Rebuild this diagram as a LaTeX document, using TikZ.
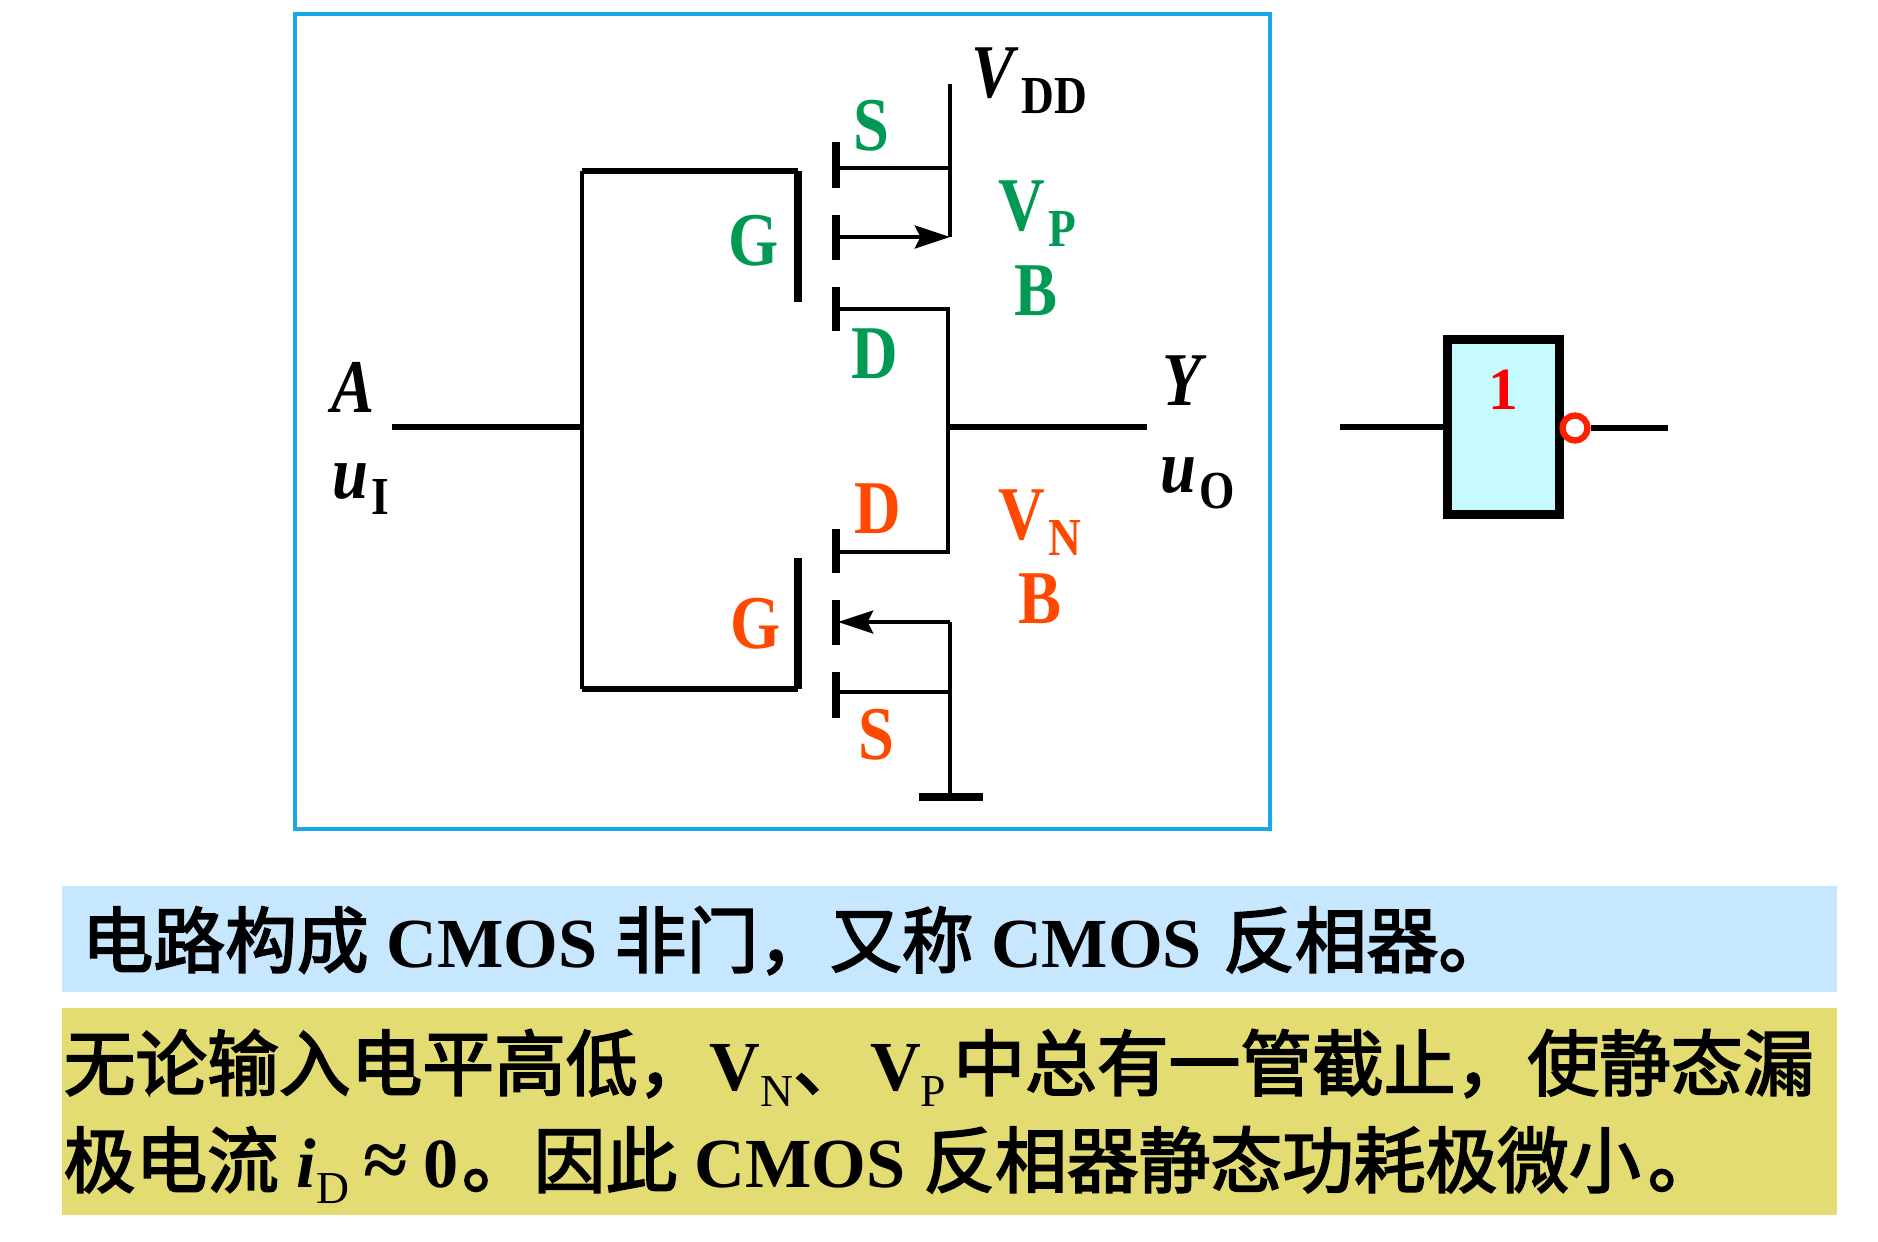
\documentclass[tikz,border=0pt]{standalone}
\usepackage{fontspec}
\setmainfont{Liberation Serif}
\newfontfamily\zhfont{Noto Sans CJK SC}[FakeBold=2.6]
\newfontfamily\lblfont{Liberation Serif}[FakeStretch=0.85]
\usetikzlibrary{arrows.meta}
\definecolor{pgreen}{RGB}{0,154,85}
\definecolor{nred}{RGB}{255,72,0}
\definecolor{framec}{RGB}{26,167,232}
\definecolor{barblue}{RGB}{199,231,255}
\definecolor{baryellow}{RGB}{226,220,114}
\definecolor{gatefill}{RGB}{197,250,255}
\definecolor{bubblec}{RGB}{255,32,0}
\newcommand{\lsub}[1]{\kern.8pt\raisebox{-4.6pt}{\fontsize{15.2}{15}\selectfont #1}}
\newcommand{\tsub}[1]{\raisebox{-4.8pt}{\fontsize{13}{13}\selectfont\mdseries #1}}
\newcommand{\zh}[1]{{\fontsize{20.4}{24}\selectfont\mdseries\zhfont #1}}
\tikzset{
    wire/.style={line width=1.2pt},
    lead/.style={line width=1.55pt},
    chan/.style={line width=2pt},
    lbl/.style={inner sep=0pt, anchor=base west, font=\fontsize{21.6}{24}\selectfont\lblfont\bfseries},
    bartext/.style={inner sep=0pt, anchor=base west, font=\fontsize{20}{24}\selectfont\bfseries},
    tip/.style={-{Stealth[length=10pt,width=6.5pt,inset=1.6pt]}}
}
\begin{document}
\begin{tikzpicture}[x=0.01cm,y=-0.01cm]
    \useasboundingbox (0,0) rectangle (1878,1242);
    \draw[framec, line width=1.3pt] (295,14) rectangle (1270,829);

    % input and gates
    \coordinate (in) at (392,427);
    \coordinate (inj) at (582,427);
    \coordinate (gptop) at (582,171);
    \coordinate (gpa) at (798,171);
    \coordinate (gpb) at (798,302);
    \coordinate (gnbot) at (582,689);
    \coordinate (gna) at (798,689);
    \coordinate (gnb) at (798,558);
    \draw[lead] (in) -- (inj);
    \draw[wire] (gnbot) -- (gptop);
    \draw[lead] (gptop) -- (gpa);
    \draw[lead] (gnbot) -- (gna);
    \draw[chan] (gpa) -- (gpb);
    \draw[chan] (gna) -- (gnb);

    % channel bars
    \foreach \name/\ya/\yb in {ps/142/188, pb/215/260, pd/287/331, nd/529/573, nb/600/645, ns/672/718} {
        \coordinate (\name a) at (836,\ya);
        \coordinate (\name b) at (836,\yb);
        \draw[chan] (\name a) -- (\name b);
    }

    % p side
    \coordinate (vdd) at (950,84);
    \coordinate (psc) at (836,168);
    \coordinate (psr) at (950,168);
    \coordinate (pbc) at (836,237);
    \coordinate (pbr) at (950,237);
    \coordinate (pdc) at (836,309);
    \coordinate (pdr) at (948,309);
    \draw[wire] (vdd) -- (pbr);
    \draw[wire] (psc) -- (psr);
    \draw[wire, tip] (pbc) -- (pbr);

    % n side
    \coordinate (ndc) at (836,552);
    \coordinate (ndr) at (948,552);
    \coordinate (nbc) at (838,622);
    \coordinate (nbr) at (950,622);
    \coordinate (nsc) at (836,692);
    \coordinate (nsr) at (950,692);
    \coordinate (gnd) at (950,797);
    \coordinate (gndl) at (919,797);
    \coordinate (gndr) at (983,797);
    \draw[wire] (pdc) -- (pdr) -- (ndr) -- (ndc);
    \draw[wire, tip] (nbr) -- (nbc);
    \draw[wire] (nbr) -- (gnd);
    \draw[wire] (nsc) -- (nsr);
    \draw[chan] (gndl) -- (gndr);

    % output
    \coordinate (outj) at (948,427);
    \coordinate (out) at (1147,427);
    \draw[lead] (outj) -- (out);

    % labels
    \node[lbl] (lvdd) at (971,97) {\textit{V}\lsub{DD}};
    \node[lbl, text=pgreen] (lps) at (853,150) {S};
    \node[lbl, text=pgreen] (lpg) at (728,265) {G};
    \node[lbl, text=pgreen] (lpd) at (851,378) {D};
    \node[lbl, text=pgreen] (lvp) at (998,230) {V\lsub{P}};
    \node[lbl, text=pgreen] (lpbulk) at (1014,315) {B};
    \node[lbl] (la) at (331,412) {\textit{A}};
    \node[lbl] (lui) at (332,498) {\textit{u}\lsub{I}};
    \node[lbl] (ly) at (1162,405) {\textit{Y}};
    \node[lbl] (luo) at (1160,492) {\textit{u}\lsub{O}};
    \node[lbl, text=nred] (lnd) at (854,533) {D};
    \node[lbl, text=nred] (lvn) at (998,539) {V\lsub{N}};
    \node[lbl, text=nred] (lnbulk) at (1018,623) {B};
    \node[lbl, text=nred] (lng) at (730,648) {G};
    \node[lbl, text=nred] (lns) at (858,759) {S};

    % gate symbol
    \node[draw, line width=2.6pt, fill=gatefill, minimum width=1.12cm, minimum height=1.75cm, inner sep=0pt] (inv) at (1503.5,427) {};
    \node[font=\fontsize{17}{20}\selectfont\bfseries, text=red, inner sep=0pt] (invone) at (1503,390) {1};
    \node[draw=bubblec, line width=1.8pt, fill=white, circle, minimum size=.25cm, inner sep=0pt] (bubble) at (1575,428) {};
    \coordinate (invin) at (1340,427);
    \coordinate (invout) at (1668,428);
    \draw[line width=1.8pt] (invin) -- (inv.west);
    \draw[line width=1.8pt] (bubble.east) -- (invout);

    % text bars
    \fill[barblue] (62,886) rectangle (1837,992);
    \fill[baryellow] (62,1008) rectangle (1837,1215);
    \node[bartext] (lineone) at (81,967) {\zh{电路构成} CMOS \zh{非门，又称} CMOS \kern1pt\zh{反相器。}};
    \node[bartext] (linetwo) at (63,1090) {\zh{无论输入电平高低，}V\tsub{N}\zh{、}\kern1.5pt V\tsub{P}\kern2pt\zh{中总有一管截止，使静态漏}};
    \node[bartext] (linethree) at (63,1187) {\zh{极电流} \textit{i}\tsub{D}\kern4pt{\fontsize{23}{24}\selectfont ≈}\kern4.5pt 0\kern1pt\zh{。因此} CMOS \zh{反相器静态功耗极微小}\kern2pt\zh{。}};
\end{tikzpicture}
\end{document}
